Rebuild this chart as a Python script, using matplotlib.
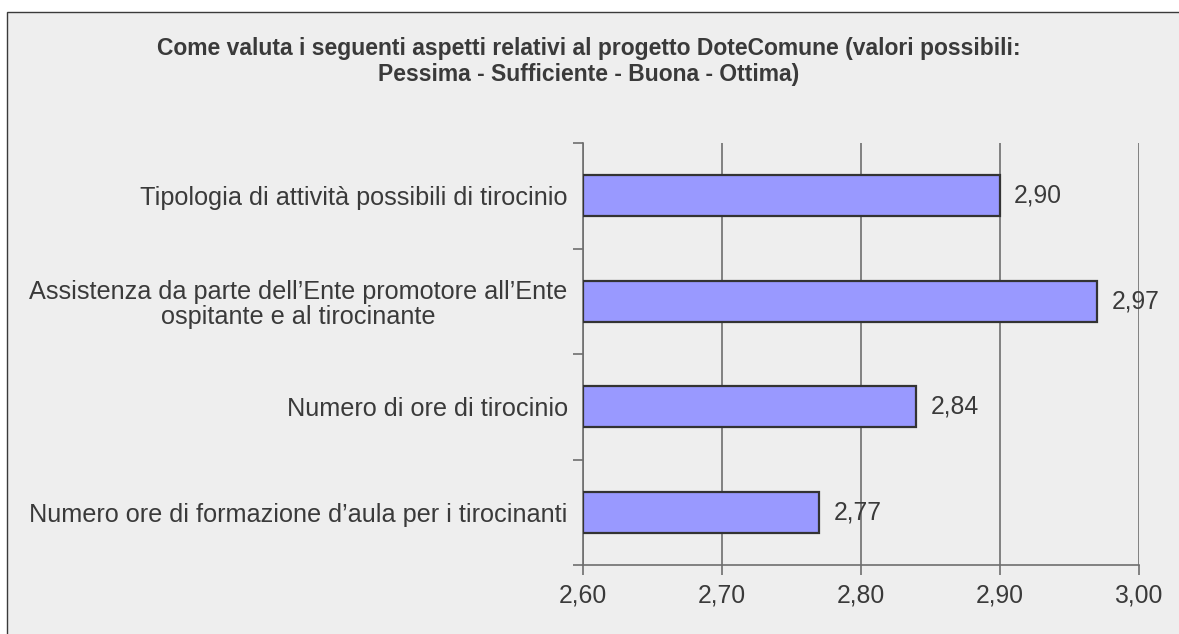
import numpy as np
import matplotlib.pyplot as plt
from matplotlib.patches import Rectangle

plt.rcParams['font.family'] = ['Liberation Sans', 'DejaVu Sans']

# dati (dall'alto verso il basso)
categorie = [
    "Tipologia di attività possibili di tirocinio",
    "Assistenza da parte dell’Ente promotore all’Ente\nospitante e al tirocinante",
    "Numero di ore di tirocinio",
    "Numero ore di formazione d’aula per i tirocinanti",
]
valori = [2.90, 2.97, 2.84, 2.77]
xticks = [2.60, 2.70, 2.80, 2.90, 3.00]

titolo = ("Come valuta i seguenti aspetti relativi al progetto DoteComune (valori possibili:\n"
          "Pessima - Sufficiente - Buona - Ottima)")

testo = '#3a3a3a'
linee = '#6e6e6e'

fig = plt.figure(figsize=(11.79, 6.34), dpi=100, facecolor='white')
# cornice grigia del grafico
fig.patches.append(Rectangle((7.5 / 1179, -0.1), 1.2, 1.1 - 11.5 / 634,
                             transform=fig.transFigure, facecolor='#eeeeee',
                             edgecolor='#3a3a3a', linewidth=1.0, zorder=-10))

ax = fig.add_axes([583 / 1179, 1 - 565 / 634, (1138.5 - 583) / 1179, (565 - 143) / 634])
ax.set_facecolor('none')

y = np.arange(len(categorie))
ax.barh(y, [v - 2.60 for v in valori], left=2.60, height=0.39,
        color='#9999ff', edgecolor='#333333', linewidth=1.6, zorder=3)

for yi, v in zip(y, valori):
    ax.annotate(('%.2f' % v).replace('.', ','), (v, yi), xytext=(10.5, 0),
                textcoords='offset points', va='center', ha='left',
                fontsize=17.8, color=testo, zorder=4)

ax.set_xlim(2.60, 3.00)
ax.set_ylim(len(categorie) - 0.5, -0.5)
ax.set_xticks(xticks)
ax.set_xticklabels([('%.2f' % t).replace('.', ',') for t in xticks])
ax.set_yticks(y)
ax.set_yticklabels(categorie, multialignment='center')
ax.set_yticks(np.arange(len(categorie) + 1) - 0.5, minor=True)
ax.tick_params(axis='y', which='major', length=0, pad=11, labelsize=18.2, labelcolor=testo)
ax.tick_params(axis='y', which='minor', length=7, width=1.2, color=linee)
ax.tick_params(axis='x', length=7, width=1.2, color=linee, pad=6, labelsize=17.8, labelcolor=testo)
for lbl in ax.get_yticklabels():
    lbl.set_linespacing(1.05)

ax.grid(axis='x', color=linee, linewidth=1.2, zorder=0)
ax.set_axisbelow(True)
for s in ['top', 'right']:
    ax.spines[s].set_visible(False)
for s in ['left', 'bottom']:
    ax.spines[s].set_color(linee)
    ax.spines[s].set_linewidth(1.2)

fig.text(0.499, 1 - 61.5 / 634, titolo, ha='center', va='center', fontsize=16.5,
         fontweight='bold', color=testo, linespacing=1.2)

fig.savefig('out.png', dpi=100, facecolor=fig.get_facecolor())
